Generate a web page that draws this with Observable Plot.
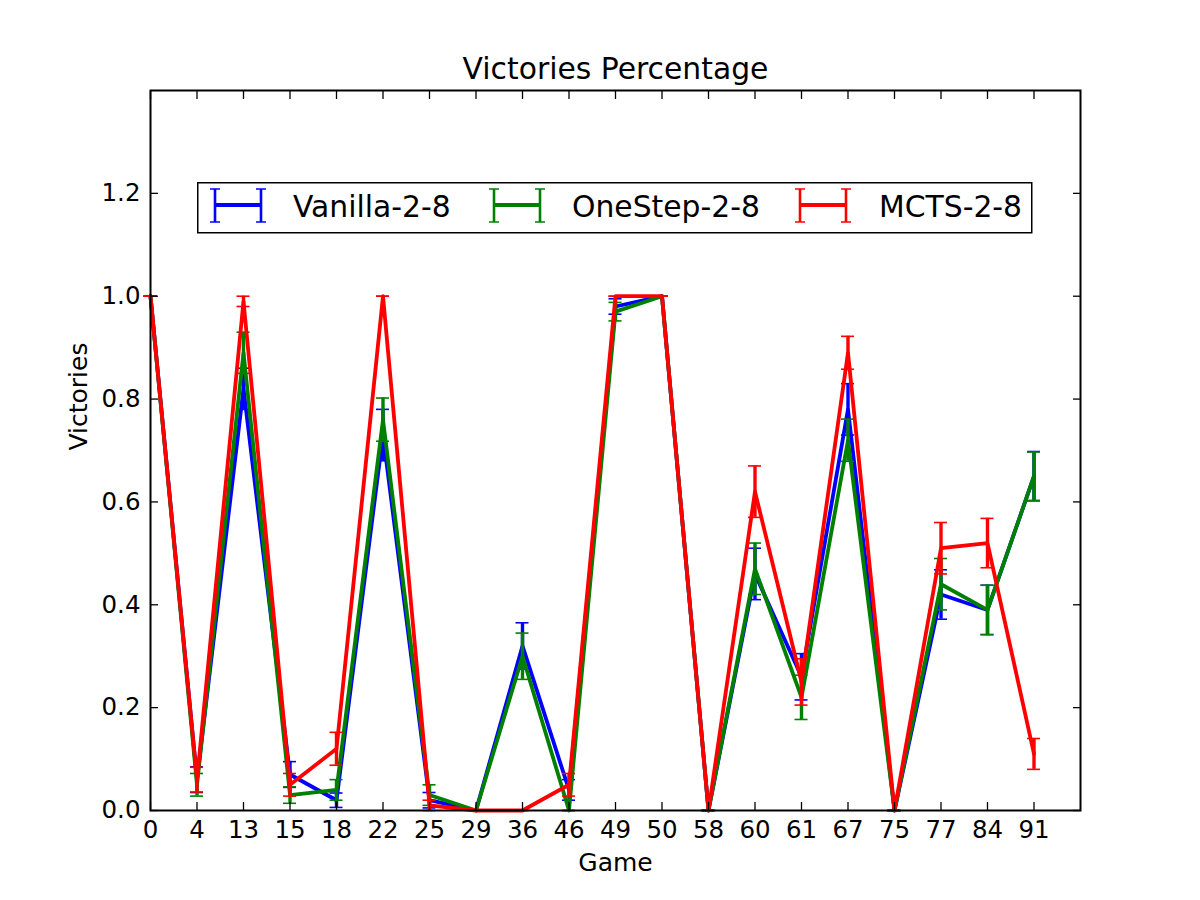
<!DOCTYPE html>
<html>
<head>
<meta charset="utf-8">
<script src="https://cdn.jsdelivr.net/npm/d3@7"></script>
<script src="https://cdn.jsdelivr.net/npm/@observablehq/plot@0.6"></script>
<style>
  body { margin: 0; background: #fff; }
  #chart { position: relative; width: 1200px; height: 900px; font-family: "DejaVu Sans", sans-serif; }
  #legend { position: absolute; left: 197px; top: 182px; }
</style>
</head>
<body>
<div id="chart"></div>
<script>
// Games played (categorical x positions 0..19)
const games = [0, 4, 13, 15, 18, 22, 25, 29, 36, 46, 49, 50, 58, 60, 61, 67, 75, 77, 84, 91];

const seriesNames = ["Vanilla-2-8", "OneStep-2-8", "MCTS-2-8"];
const seriesColors = ["#0000ff", "#008000", "#ff0000"];

// Victory rate per game and its error half-width
const vanilla    = [1.00, 0.06, 0.82, 0.07, 0.02, 0.73, 0.02, 0.00, 0.32, 0.04, 0.98, 1.00, 0.00, 0.46, 0.26, 0.78, 0.00, 0.42, 0.39, 0.65];
const vanillaErr = [0.00, 0.025, 0.04, 0.025, 0.014, 0.05, 0.015, 0.00, 0.045, 0.02, 0.015, 0.00, 0.00, 0.05, 0.045, 0.05, 0.00, 0.048, 0.048, 0.048];

const onestep    = [1.00, 0.05, 0.89, 0.03, 0.04, 0.76, 0.03, 0.00, 0.30, 0.00, 0.97, 1.00, 0.00, 0.47, 0.22, 0.72, 0.00, 0.44, 0.39, 0.65];
const onestepErr = [0.00, 0.022, 0.04, 0.016, 0.02, 0.042, 0.02, 0.00, 0.045, 0.00, 0.018, 0.00, 0.00, 0.05, 0.043, 0.041, 0.00, 0.05, 0.048, 0.047];

const mcts       = [1.00, 0.06, 0.99, 0.05, 0.12, 1.00, 0.01, 0.00, 0.00, 0.05, 1.00, 1.00, 0.00, 0.62, 0.25, 0.89, 0.00, 0.51, 0.52, 0.11];
const mctsErr    = [0.00, 0.024, 0.01, 0.022, 0.032, 0.00, 0.01, 0.00, 0.00, 0.022, 0.00, 0.00, 0.00, 0.05, 0.045, 0.032, 0.00, 0.05, 0.048, 0.03];

const yTicks = [0.0, 0.2, 0.4, 0.6, 0.8, 1.0, 1.2];

const values = [vanilla, onestep, mcts];
const errors = [vanillaErr, onestepErr, mctsErr];

const rows = seriesNames.map((name, s) =>
  games.map((g, i) => ({series: name, i, game: g, v: values[s][i], e: errors[s][i]}))
);

const capHalf = 0.14; // half-width of error-bar caps, in category units
const font = "DejaVu Sans";

const seriesMarks = rows.flatMap((d, s) => {
  const c = seriesColors[s];
  return [
    Plot.line(d, {x: "i", y: "v", stroke: c, strokeWidth: 3.8, strokeLinejoin: "round"}),
    Plot.ruleX(d, {x: "i", y1: r => r.v - r.e, y2: r => r.v + r.e, stroke: c, strokeWidth: 3.4}),
    Plot.ruleY(d, {y: r => r.v + r.e, x1: r => r.i - capHalf, x2: r => r.i + capHalf, stroke: c, strokeWidth: 1.6}),
    Plot.ruleY(d, {y: r => r.v - r.e, x1: r => r.i - capHalf, x2: r => r.i + capHalf, stroke: c, strokeWidth: 1.6})
  ];
});

const xIdx = games.map((g, i) => i);

const chart = Plot.plot({
  width: 1200,
  height: 900,
  marginLeft: 150,
  marginRight: 120,
  marginTop: 90,
  marginBottom: 90,
  style: {fontFamily: font, fontSize: "24px", background: "white", color: "black"},
  x: {type: "linear", domain: [0, 20]},
  y: {domain: [0, 1.4]},
  marks: [
    ...seriesMarks,
    // tick labels
    Plot.axisX(xIdx, {anchor: "bottom", tickSize: 0, tickPadding: 10, tickFormat: i => String(games[i]), label: null, fontSize: 24.5}),
    Plot.axisY(yTicks, {anchor: "left", tickSize: 0, tickPadding: 10, tickFormat: d => d.toFixed(1), label: null, fontSize: 24.5}),
    // inward tick marks on all four sides
    Plot.axisX(xIdx, {anchor: "bottom", tickSize: 8, dy: -8, fill: "none", label: null, strokeWidth: 1.3}),
    Plot.axisX(xIdx, {anchor: "top", tickSize: 8, dy: 8, fill: "none", label: null, strokeWidth: 1.3}),
    Plot.axisY(yTicks, {anchor: "left", tickSize: 8, dx: 8, fill: "none", label: null, strokeWidth: 1.3}),
    Plot.axisY(yTicks, {anchor: "right", tickSize: 8, dx: -8, fill: "none", label: null, strokeWidth: 1.3}),
    Plot.frame({stroke: "black", strokeWidth: 2}),
    // title and axis labels
    Plot.text(["Victories Percentage"], {frameAnchor: "top", dy: -21, fontSize: 29.8, lineAnchor: "middle", fill: "black"}),
    Plot.text(["Game"], {frameAnchor: "bottom", dy: 52, fontSize: 25, lineAnchor: "middle", fill: "black"}),
    Plot.text(["Victories"], {frameAnchor: "left", dx: -72, rotate: -90, fontSize: 25, lineAnchor: "middle", fill: "black"})
  ]
});

const container = document.getElementById("chart");
container.appendChild(chart);

// Legend box drawn over the plot area
const ns = "http://www.w3.org/2000/svg";
const lg = document.createElementNS(ns, "svg");
lg.setAttribute("id", "legend");
lg.setAttribute("width", 836);
lg.setAttribute("height", 52);
const box = document.createElementNS(ns, "rect");
box.setAttribute("x", 0.75); box.setAttribute("y", 0.75);
box.setAttribute("width", 834); box.setAttribute("height", 50);
box.setAttribute("fill", "white"); box.setAttribute("stroke", "black"); box.setAttribute("stroke-width", 1.5);
lg.appendChild(box);
const iconX = [18, 297, 603];
const textX = [96, 375, 682];
seriesNames.forEach((name, s) => {
  const c = seriesColors[s];
  const x0 = iconX[s], x1 = x0 + 46, yc = 23, yt = 7, yb = 40;
  const parts = [
    [x0, yc, x1, yc, 3.8],
    [x0, yt, x0, yb, 2.6],
    [x1, yt, x1, yb, 2.6],
    [x0 - 5, yt, x0 + 5, yt, 1.5],
    [x0 - 5, yb, x0 + 5, yb, 1.5],
    [x1 - 5, yt, x1 + 5, yt, 1.5],
    [x1 - 5, yb, x1 + 5, yb, 1.5]
  ];
  parts.forEach(([a, b, cc, dd, w]) => {
    const l = document.createElementNS(ns, "line");
    l.setAttribute("x1", a); l.setAttribute("y1", b);
    l.setAttribute("x2", cc); l.setAttribute("y2", dd);
    l.setAttribute("stroke", c); l.setAttribute("stroke-width", w);
    lg.appendChild(l);
  });
  const t = document.createElementNS(ns, "text");
  t.setAttribute("x", textX[s]);
  t.setAttribute("y", 35);
  t.setAttribute("font-family", font);
  t.setAttribute("font-size", 29.8);
  t.setAttribute("fill", "black");
  t.textContent = name;
  lg.appendChild(t);
});
container.appendChild(lg);
</script>
</body>
</html>
